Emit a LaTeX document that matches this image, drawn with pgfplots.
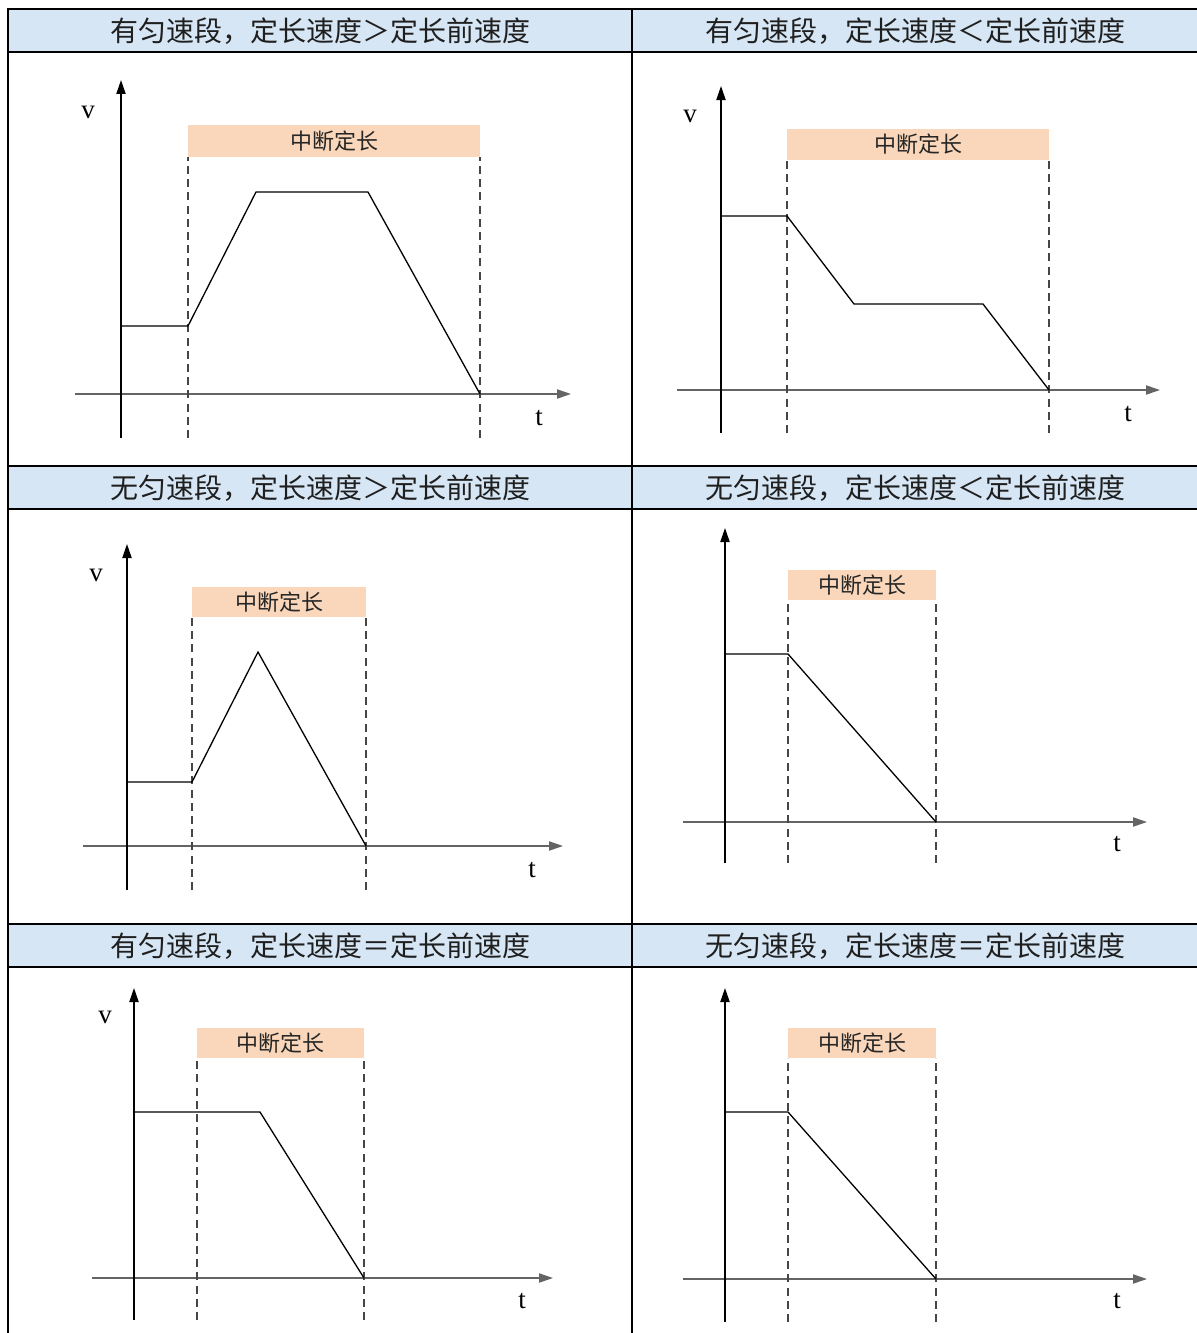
\documentclass[border=0pt]{standalone}
\usepackage{fontspec}
\usepackage{pgfplots}
\pgfplotsset{compat=1.18}
\usetikzlibrary{arrows.meta}
\newfontfamily\cjk{Noto Sans CJK SC}
\newfontfamily\tms{Liberation Serif}
\definecolor{hdr}{RGB}{214,230,244}
\definecolor{boxc}{RGB}{250,215,186}
\definecolor{xax}{RGB}{100,100,100}
\definecolor{dsh}{RGB}{70,70,70}
\tikzset{bigarrow/.tip={Triangle[length=7pt,width=4.6pt]}}
\pgfplotsset{
  panel/.style={
    x=0.5pt, y=0.5pt,
    hide axis,
    clip=false,
    anchor=south west,
  },
  xarr/.style={xax, line width=0.7pt, mark=none, -bigarrow},
  yarr/.style={black, line width=0.7pt, mark=none, -bigarrow},
  curve/.style={black, line width=0.65pt, mark=none},
  dline/.style={dsh, line width=0.65pt, dash pattern=on 4pt off 2.6pt, mark=none},
}
\newcommand{\boxlabel}{\cjk\fontsize{11pt}{13pt}\selectfont 中断定长}
\newcommand{\lbl}[1]{\tms\fontsize{13.5pt}{15pt}\selectfont #1}
\begin{document}
\begin{tikzpicture}
\path[use as bounding box] (0,0) rectangle (598.5pt,-666.5pt);
\begin{scope}[x=0.5pt,y=-0.5pt]
  \fill[hdr] (8,9) rectangle (1197,52);
  \fill[hdr] (8,466) rectangle (1197,509);
  \fill[hdr] (8,924) rectangle (1197,967);
  \foreach \yy in {9,52,466,509,924,967}{\draw[line width=1.3pt] (8,\yy) -- (1197,\yy);}
  \draw[line width=1.3pt] (8,8.4) -- (8,1333);
  \draw[line width=1.3pt] (632,8.4) -- (632,1333);
  \begin{scope}[every node/.style={font=\cjk\fontsize{14pt}{16pt}\selectfont, text=black!88, inner sep=0pt}]
  \node at (320,31) {有匀速段，定长速度＞定长前速度};
  \node at (915,31) {有匀速段，定长速度＜定长前速度};
  \node at (320,488) {无匀速段，定长速度＞定长前速度};
  \node at (915,488) {无匀速段，定长速度＜定长前速度};
  \node at (320,946) {有匀速段，定长速度＝定长前速度};
  \node at (915,946) {无匀速段，定长速度＝定长前速度};
  \end{scope}
\end{scope}

% Panel 1
\begin{axis}[panel, at={(37.5pt,-219pt)}, xmin=-46, xmax=450, ymin=-44, ymax=314]
  \fill[boxc] (axis cs:67,237) rectangle (axis cs:359,269);
  \node[inner sep=0pt, text=black!85] at (axis cs:213,253) {\boxlabel};
  \addplot[xarr] coordinates {(-46,0) (450,0)};
  \addplot[yarr] coordinates {(0,-44) (0,314)};
  \addplot[dline] coordinates {(67,-44) (67,237)};
  \addplot[dline] coordinates {(359,-44) (359,237)};
  \addplot[curve] coordinates {(0,68) (67,68) (135,202) (247,202) (359,0)};
  \node[inner sep=0pt] at (axis cs:-33,282) {\lbl{v}};
  \node[inner sep=0pt] at (axis cs:418,-24) {\lbl{t}};
\end{axis}

% Panel 2
\begin{axis}[panel, at={(338.5pt,-216.5pt)}, xmin=-44, xmax=439, ymin=-43, ymax=304]
  \fill[boxc] (axis cs:66,230) rectangle (axis cs:328,261);
  \node[inner sep=0pt, text=black!85] at (axis cs:197,245.5) {\boxlabel};
  \addplot[xarr] coordinates {(-44,0) (439,0)};
  \addplot[yarr] coordinates {(0,-43) (0,304)};
  \addplot[dline] coordinates {(66,-43) (66,230)};
  \addplot[dline] coordinates {(328,-43) (328,230)};
  \addplot[curve] coordinates {(0,174) (66,174) (133,86) (262,86) (328,0)};
  \node[inner sep=0pt] at (axis cs:-31,274) {\lbl{v}};
  \node[inner sep=0pt] at (axis cs:407,-24) {\lbl{t}};
\end{axis}

% Panel 3
\begin{axis}[panel, at={(41.5pt,-445pt)}, xmin=-44, xmax=436, ymin=-44, ymax=302]
  \fill[boxc] (axis cs:65,229) rectangle (axis cs:239,259);
  \node[inner sep=0pt, text=black!85] at (axis cs:152,244) {\boxlabel};
  \addplot[xarr] coordinates {(-44,0) (436,0)};
  \addplot[yarr] coordinates {(0,-44) (0,302)};
  \addplot[dline] coordinates {(65,-44) (65,229)};
  \addplot[dline] coordinates {(239,-44) (239,229)};
  \addplot[curve] coordinates {(0,64) (65,64) (131,194) (239,0)};
  \node[inner sep=0pt] at (axis cs:-31,271) {\lbl{v}};
  \node[inner sep=0pt] at (axis cs:405,-24) {\lbl{t}};
\end{axis}

% Panel 4
\begin{axis}[panel, at={(341.5pt,-431.5pt)}, xmin=-42, xmax=422, ymin=-41, ymax=294]
  \fill[boxc] (axis cs:63,222) rectangle (axis cs:211,252);
  \node[inner sep=0pt, text=black!85] at (axis cs:137,237) {\boxlabel};
  \addplot[xarr] coordinates {(-42,0) (422,0)};
  \addplot[yarr] coordinates {(0,-41) (0,294)};
  \addplot[dline] coordinates {(63,-41) (63,222)};
  \addplot[dline] coordinates {(211,-41) (211,222)};
  \addplot[curve] coordinates {(0,168) (63,168) (211,0)};
  \node[inner sep=0pt] at (axis cs:392,-22) {\lbl{t}};
\end{axis}

% Panel 5
\begin{axis}[panel, at={(46pt,-660pt)}, xmin=-42, xmax=419, ymin=-42, ymax=290]
  \fill[boxc] (axis cs:63,220) rectangle (axis cs:230,250);
  \node[inner sep=0pt, text=black!85] at (axis cs:146.5,235) {\boxlabel};
  \addplot[xarr] coordinates {(-42,0) (419,0)};
  \addplot[yarr] coordinates {(0,-42) (0,290)};
  \addplot[dline] coordinates {(63,-42) (63,220)};
  \addplot[dline] coordinates {(230,-42) (230,220)};
  \addplot[curve] coordinates {(0,166) (126,166) (230,0)};
  \node[inner sep=0pt] at (axis cs:-29,261) {\lbl{v}};
  \node[inner sep=0pt] at (axis cs:388,-23) {\lbl{t}};
\end{axis}

% Panel 6
\begin{axis}[panel, at={(341.5pt,-661pt)}, xmin=-42, xmax=422, ymin=-43, ymax=291]
  \fill[boxc] (axis cs:63,221) rectangle (axis cs:211,251);
  \node[inner sep=0pt, text=black!85] at (axis cs:137,236) {\boxlabel};
  \addplot[xarr] coordinates {(-42,0) (422,0)};
  \addplot[yarr] coordinates {(0,-43) (0,291)};
  \addplot[dline] coordinates {(63,-43) (63,221)};
  \addplot[dline] coordinates {(211,-43) (211,221)};
  \addplot[curve] coordinates {(0,167) (63,167) (211,0)};
  \node[inner sep=0pt] at (axis cs:392,-22) {\lbl{t}};
\end{axis}
\end{tikzpicture}
\end{document}
